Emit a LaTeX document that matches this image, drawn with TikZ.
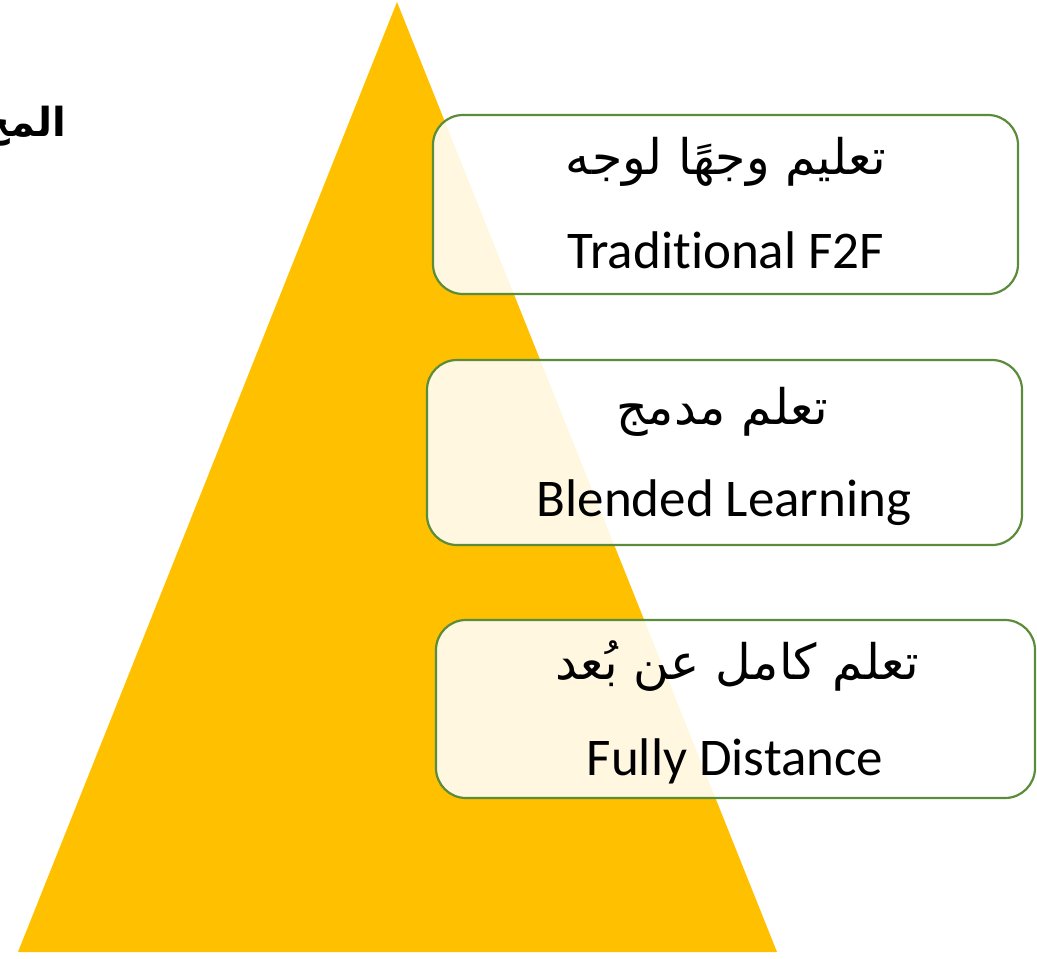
\documentclass[tikz,border=0pt]{standalone}
\usepackage{fontspec}
\setmainfont{Carlito}[Ligatures=NoCommon]
\newfontfamily\arabicfont[Script=Arabic]{DejaVu Sans}
\TeXXeTstate=1
\definecolor{tri}{HTML}{FFC000}
\definecolor{boxgreen}{HTML}{5B8C3A}
\begin{document}
\begin{tikzpicture}[x=1pt,y=-1pt,
  levelbox/.style={draw=boxgreen,line width=2.2pt,rounded corners=30pt,fill=white,fill opacity=0.88,draw opacity=1,inner sep=0pt},
  artext/.style={font=\arabicfont\fontsize{49}{56}\selectfont,inner sep=0pt,text=black},
  entext/.style={font=\fontsize{53}{60}\selectfont,inner sep=0pt,anchor=base,text=black},
  titletext/.style={font=\arabicfont\bfseries\fontsize{40}{46}\selectfont,inner sep=0pt,anchor=east,text=black}]
\useasboundingbox (0,0) rectangle (1037,959);
\fill[tri] (397,2) coordinate (apex) -- (777,952) coordinate (br) -- (18,952) coordinate (bl) -- cycle;
\node[titletext] (title) at (66,126) {\beginR المح\endR};
\node[levelbox,minimum width=585pt,minimum height=179pt] (b1) at (725.5,204.5) {};
\node[levelbox,minimum width=595pt,minimum height=185pt] (b2) at (724.5,452.5) {};
\node[levelbox,minimum width=599pt,minimum height=178pt] (b3) at (735.5,709) {};
\node[artext] (a1) at (726,162) {\beginR تعليم وجهًا لوجه\endR};
\node[entext] (e1) at (726,268) {Traditional F2F};
\node[artext] (a2) at (722,412) {\beginR تعلم مدمج\endR};
\node[entext] (e2) at (724,516) {Blended Learning};
\node[artext] (a3) at (737,666) {\beginR تعلم كامل عن بُعد\endR};
\node[entext] (e3) at (735,775) {Fully Distance};
\end{tikzpicture}
\end{document}
